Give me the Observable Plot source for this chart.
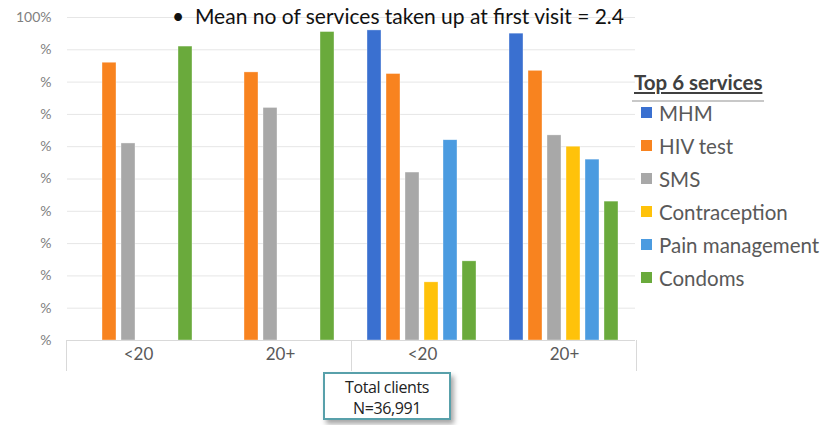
<!DOCTYPE html>
<html>
<head>
<meta charset="utf-8">
<script src="https://cdn.jsdelivr.net/npm/d3@7"></script>
<script src="https://cdn.jsdelivr.net/npm/@observablehq/plot@0.6"></script>
<style>
  html, body { margin: 0; padding: 0; background: #fff; }
  #wrap { position: relative; width: 828px; height: 425px; overflow: hidden; font-family: Lato, "Open Sans", sans-serif; }
  #chart { position: absolute; left: 0; top: 0; }
  .abs { position: absolute; white-space: nowrap; }
  #title { left: 172px; top: 3px; font-size: 21px; color: #111; }
  #legend { left: 632px; top: 69px; }
  #legend .head { font-size: 20.5px; font-weight: bold; color: #404040; text-decoration: underline; padding-left: 2px; height: 31px; line-height: 26px; }
  #legend .rule { width: 132px; height: 2px; background: #c8c8c8; margin-bottom: -6px; }
  #legend .item { height: 33px; display: flex; align-items: center; font-size: 20.5px; color: #595959; }
  #legend .sw { width: 11px; height: 11px; margin-left: 9px; margin-right: 7px; }
  #box { left: 323px; top: 372px; width: 128px; height: 48px; border: 2px solid #58a0aa; box-shadow: 3px 4px 5px rgba(0,0,0,0.35); background: #fff; text-align: center; font-size: 16px; color: #222; line-height: 21px; padding-top: 3px; box-sizing: border-box; font-family: "Open Sans", sans-serif; letter-spacing: -0.4px; }
  .div { position: absolute; width: 1px; background: #d9d9d9; top: 340px; height: 31px; }
</style>
</head>
<body>
<div id="wrap">
  <div id="chart"></div>
  <div id="title" class="abs">•&nbsp;&nbsp;Mean no of services taken up at first visit = 2.4</div>
  <div id="legend" class="abs"></div>
  <div id="box" class="abs">Total clients<br>N=36,991</div>
</div>
<script>
// ---- data (percent of clients taking up each service) ----
const groups = ["A <20", "A 20+", "B <20", "B 20+"];
const groupLabels = ["<20", "20+", "<20", "20+"];
const services = ["MHM", "HIV test", "SMS", "Contraception", "Pain management", "Condoms"];
const colors = ["#3a70d0", "#f8831f", "#a8a8a8", "#ffc20a", "#4b9be0", "#6aaa3c"];
const MHM            = [null, null, 96, 95];
const HIVtest        = [86, 83, 82.5, 83.5];
const SMS            = [61, 72, 52, 63.5];
const Contraception  = [null, null, 18, 60];
const PainManagement = [null, null, 62, 56];
const Condoms        = [91, 95.5, 24.5, 43];
const yTicks = [0, 10, 20, 30, 40, 50, 60, 70, 80, 90, 100];

const seriesValues = [MHM, HIVtest, SMS, Contraception, PainManagement, Condoms];
const rows = [];
services.forEach((s, i) => groups.forEach((g, j) => {
  const v = seriesValues[i][j];
  if (v != null) rows.push({service: s, group: g, value: v});
}));

const W = 828, H = 425, mL = 66, mR = 192, mT = 17, mB = 85;

const plot = Plot.plot({
  width: W, height: H,
  marginLeft: mL, marginRight: mR, marginTop: mT, marginBottom: mB,
  style: {fontFamily: "Lato, 'Open Sans', sans-serif", background: "transparent"},
  fx: {domain: groups, padding: 0, label: null},
  x: {domain: services, paddingInner: 0.25, paddingOuter: 0.82, axis: null},
  y: {domain: [0, 100], axis: null, label: null},
  color: {domain: services, range: colors},
  marks: [
    Plot.gridY(yTicks, {stroke: "#e6e6e6", strokeOpacity: 1}),
    Plot.axisY(yTicks, {tickSize: 0, tickPadding: 16, tickFormat: d => d === 100 ? "100%" : "%", fontSize: 14, color: "#808080", anchor: "left", label: null}),
    Plot.barY(rows, {fx: "group", x: "service", y: "value", fill: "service", stroke: "#ffffff", strokeWidth: 0.6, strokeOpacity: 0.6}),
    Plot.ruleY([0], {stroke: "#d9d9d9"}),
    Plot.axisFx({anchor: "bottom", tickSize: 0, tickPadding: 7, fontSize: 17, color: "#595959", label: null, tickFormat: d => groupLabels[groups.indexOf(d)]})
  ]
});
document.getElementById("chart").appendChild(plot);

// group dividers of the two-level category axis
const innerW = W - mL - mR;
[0, 0.5, 1].forEach(f => {
  const d = document.createElement("div");
  d.className = "div";
  d.style.left = (mL + f * innerW) + "px";
  document.getElementById("wrap").appendChild(d);
});

// legend
const lg = document.getElementById("legend");
lg.innerHTML = '<div class="head">Top 6 services</div><div class="rule"></div>' +
  services.map((s, i) => `<div class="item"><span class="sw" style="background:${colors[i]}"></span>${s}</div>`).join("");
</script>
</body>
</html>
